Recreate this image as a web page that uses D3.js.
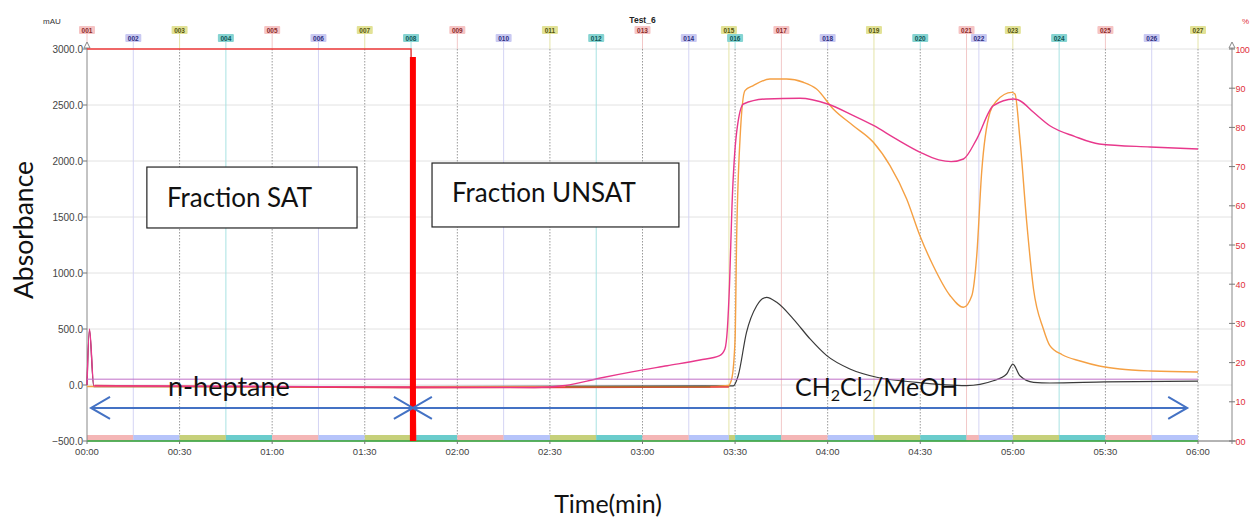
<!DOCTYPE html>
<html><head><meta charset="utf-8">
<script src="https://cdn.jsdelivr.net/npm/d3@7"></script>
<style>body{margin:0;background:#fff}svg{display:block}</style>
</head><body>
<svg id="c" width="1250" height="522"></svg>
<script>
// ---- data ----
const timeTickSeconds = [0,30,60,90,120,150,180,210,240,270,300,330,360];
const timeTickLabels = ["00:00","00:30","01:00","01:30","02:00","02:30","03:00","03:30","04:00","04:30","05:00","05:30","06:00"];
const leftTicks = [-500,0,500,1000,1500,2000,2500,3000];
const rightTicks = [0,10,20,30,40,50,60,70,80,90,100];
const rightTickLabels = ["00","10","20","30","40","50","60","70","80","90","100"];
const fractionLabels = ["001","002","003","004","005","006","007","008","009","010","011","012","013","014","015","016","017","018","019","020","021","022","023","024","025","026","027"];
const fractionTimes = [0,15,30,45,60,75,90,105,120,135,150,165,180,195,208,210,225,240,255,270,285,289,300,315,330,345,360];

// pink trace (mAU)
const pinkT = [0,0.8,2.2,30,60,105,145,155,166,177,188,198.6,205,206.7,207.5,208.2,209,210.5,212.7,220,231,240,248,255,262,270,276,280,284,288.3,293.7,300.2,302.3,306.7,312,320,328,344.5,360];
const pinkV = [0,500,-8,-10,-12,-18,-22,-5,60,119,172,223,262,321,500,900,1600,2256,2509,2554,2560,2509,2410,2315,2200,2078,2010,1994,2018,2196,2494,2554,2538,2435,2315,2220,2152,2125,2107];
// orange trace (mAU)
const orangeT = [0,100,200,207.8,208.9,210,210.5,211.6,213.2,215.9,221.3,226.7,232.1,236.4,241.8,248.3,254.8,260.2,265.6,269.9,274.2,279.7,284,286.7,288.3,289.9,292.6,294.8,299.6,300.7,302.3,304.5,306.7,309.9,312,316,321.8,328,334.7,345,360];
const orangeV = [-14,-16,-16,-5,54,411,1304,2196,2628,2673,2732,2732,2703,2643,2464,2315,2167,1958,1661,1333,1065,797,694,797,1154,1899,2435,2538,2613,2598,2196,1453,857,500,351,270,214,170,143,125,116];
// black trace (mAU)
const blackT = [0,0.8,2.2,100,209.4,211,213.7,217,220.2,223.5,228.9,234.3,239.7,247.2,255.9,268.8,285,293.7,298,300,302.3,306.7,312,330,360];
const blackV = [0,490,-15,-15,-8,83,470,708,783,738,589,411,262,143,69,24,-5,38,98,187,83,24,18,28,35];
// red trace near baseline (mAU)
const redT = [2.5,105,150,208];
const redV = [-5,-25,-22,-18];
// brown trace (mAU)
const brownT = [155,202];
const brownV = [-16,-16];
// purple reference line (mAU)
const purpleT = [0,360];
const purpleV = [52,52];
// red gradient line (%)
const gradT = [0,105,106.5];
const gradV = [100,100,0];

// ---- layout ----
const svg = d3.select("#c");
const x = d3.scaleLinear().domain([0,360]).range([87,1198]);
const y = d3.scaleLinear().domain([-500,3000]).range([441,49]);
const yr = d3.scaleLinear().domain([0,100]).range([441,49]);
const axisRightX = 1232;
const tickFont = "'Liberation Sans', Arial, sans-serif";
const annFont = "Lato, 'Open Sans', sans-serif";

const fracColors = [
  {bg:"#f6c4c4", fg:"#8a2a2a", line:"#f2c8c8", band:"#f4b6b6"},
  {bg:"#c9c9f2", fg:"#2e2e80", line:"#d4d4f4", band:"#b6c4fa"},
  {bg:"#e2e296", fg:"#55550e", line:"#e4e4a8", band:"#c6d07a"},
  {bg:"#86d4d2", fg:"#0e5656", line:"#a8e2e2", band:"#6acccc"}
];

// horizontal grid
svg.append("g").selectAll("line").data(leftTicks).join("line")
  .attr("x1",x(0)).attr("x2",axisRightX).attr("y1",d=>y(d)).attr("y2",d=>y(d))
  .attr("stroke","#e2e2e2").attr("stroke-width",1);

// fraction vertical lines (non 30s)
const fr = fractionTimes.map((t,i)=>({t,i,label:fractionLabels[i],c:fracColors[i%4]}));
svg.append("g").selectAll("line").data(fr.filter(d=>d.t%30!==0)).join("line")
  .attr("x1",d=>x(d.t)).attr("x2",d=>x(d.t)).attr("y1",y(3000)).attr("y2",y(-500))
  .attr("stroke",d=>d.c.line).attr("stroke-width",1);
// 30s dotted grid
svg.append("g").selectAll("line").data(timeTickSeconds.filter(d=>d>0)).join("line")
  .attr("x1",d=>x(d)).attr("x2",d=>x(d)).attr("y1",y(3000)).attr("y2",y(-500))
  .attr("stroke","#9a9a9a").attr("stroke-width",1).attr("stroke-dasharray","1.5,1.5");

// bottom fraction band
const bands = fr.slice(0,-1).map((d,i)=>({t0:d.t,t1:fr[i+1].t,c:d.c}));
svg.append("g").selectAll("rect").data(bands).join("rect")
  .attr("x",d=>x(d.t0)).attr("width",d=>x(d.t1)-x(d.t0))
  .attr("y",y(-500)-6).attr("height",6).attr("fill",d=>d.c.band);

// fraction labels + stems
const fl = svg.append("g");
fl.selectAll("line").data(fr).join("line")
  .attr("x1",d=>x(d.t)).attr("x2",d=>x(d.t))
  .attr("y1",d=>d.i%2===0?34:42).attr("y2",y(3000))
  .attr("stroke",d=>d.c.line).attr("stroke-width",1);
fl.selectAll("rect").data(fr).join("rect")
  .attr("x",d=>x(d.t)-8).attr("y",d=>d.i%2===0?26:34).attr("width",16).attr("height",8)
  .attr("fill",d=>d.c.bg).attr("rx",1);
fl.selectAll("text").data(fr).join("text")
  .attr("x",d=>x(d.t)).attr("y",d=>d.i%2===0?32.5:40.5).attr("text-anchor","middle")
  .attr("font-family",tickFont).attr("font-size",6.5).attr("font-weight","bold")
  .attr("fill",d=>d.c.fg).text(d=>d.label);

// axes lines
svg.append("line").attr("x1",x(0)).attr("x2",axisRightX+4).attr("y1",y(-500)).attr("y2",y(-500)).attr("stroke","#777");
svg.append("line").attr("x1",x(0)).attr("x2",x(360)).attr("y1",y(-500)).attr("y2",y(-500)).attr("stroke","#3cb043").attr("stroke-width",1.5);
svg.append("line").attr("x1",x(0)).attr("x2",x(0)).attr("y1",y(-500)).attr("y2",44).attr("stroke","#888");
svg.append("line").attr("x1",axisRightX).attr("x2",axisRightX).attr("y1",y(-500)+3).attr("y2",44).attr("stroke","#888");
[x(0),axisRightX].forEach(ax=>{
  svg.append("path").attr("d",`M${ax-3},${48} L${ax},${42} L${ax+3},${48} Z`).attr("fill","#fff").attr("stroke","#888");
});

// left ticks
const lt = svg.append("g");
lt.selectAll("line").data(leftTicks).join("line")
  .attr("x1",x(0)-4).attr("x2",x(0)).attr("y1",d=>y(d)).attr("y2",d=>y(d)).attr("stroke","#777");
lt.selectAll("text").data(leftTicks).join("text")
  .attr("x",x(0)-4).attr("y",d=>y(d)+3.5).attr("text-anchor","end")
  .attr("font-family",tickFont).attr("font-size",10).attr("fill","#444")
  .text(d=>d3.format(".1f")(d));
// right ticks
const rt = svg.append("g");
rt.selectAll("line").data(rightTicks).join("line")
  .attr("x1",axisRightX-3).attr("x2",axisRightX+3).attr("y1",d=>yr(d)).attr("y2",d=>yr(d)).attr("stroke","#777");
rt.selectAll("text").data(rightTicks).join("text")
  .attr("x",axisRightX+3.5).attr("y",d=>yr(d)+3.5)
  .attr("font-family",tickFont).attr("font-size",9).attr("fill","#e0303a")
  .attr("letter-spacing",d=>d===100?-0.4:0)
  .text((d,i)=>rightTickLabels[i]);
// x ticks
const xt = svg.append("g");
xt.selectAll("line").data(timeTickSeconds).join("line")
  .attr("x1",d=>x(d)).attr("x2",d=>x(d)).attr("y1",y(-500)).attr("y2",y(-500)+3).attr("stroke","#777");
xt.selectAll("text").data(timeTickSeconds).join("text")
  .attr("x",d=>x(d)).attr("y",y(-500)+14).attr("text-anchor","middle")
  .attr("font-family",tickFont).attr("font-size",9.5).attr("fill","#444")
  .text((d,i)=>timeTickLabels[i]);

// header texts
svg.append("text").attr("x",43).attr("y",24).attr("font-family",tickFont).attr("font-size",8).attr("fill","#333").text("mAU");
svg.append("text").attr("x",x(180)).attr("y",23).attr("text-anchor","middle").attr("font-family",tickFont).attr("font-size",8.5).attr("font-weight","bold").attr("fill","#222").text("Test_6");
svg.append("text").attr("x",1242).attr("y",24).attr("font-family",tickFont).attr("font-size",8).attr("fill","#e0303a").text("%");

// ---- traces ----
const line = d3.line().x(d=>x(d[0])).y(d=>y(d[1])).curve(d3.curveMonotoneX);
const liner = d3.line().x(d=>x(d[0])).y(d=>yr(d[1]));
const zip = (a,b)=>a.map((t,i)=>[t,b[i]]);
const tr = svg.append("g").attr("fill","none");
tr.append("path").attr("d",line(zip(blackT,blackV))).attr("stroke","#3a3a3a").attr("stroke-width",1.2);
tr.append("path").attr("d",line(zip(orangeT,orangeV))).attr("stroke","#f5a043").attr("stroke-width",1.4);
tr.append("path").attr("d",line(zip(redT,redV))).attr("stroke","#e84040").attr("stroke-width",1.4);
tr.append("path").attr("d",line(zip(brownT,brownV))).attr("stroke","#a86a30").attr("stroke-width",1.6);
tr.append("path").attr("d",line(zip(pinkT,pinkV))).attr("stroke","#e8388c").attr("stroke-width",1.4);
tr.append("path").attr("d",line(zip(purpleT,purpleV))).attr("stroke","#c070c8").attr("stroke-width",1);
tr.append("path").attr("d",liner(zip(gradT,gradV))).attr("stroke","#ee3a3a").attr("stroke-width",1.4);

// ---- annotations ----
const cutT = 105.6;
svg.append("rect").attr("x",x(cutT)-3).attr("width",6).attr("y",57).attr("height",y(-500)-57).attr("fill","#ff0000");

const arrowY = y(-205);
const ann = svg.append("g").attr("stroke","#4472c4").attr("stroke-width",2).attr("fill","none");
function dblArrow(t0,t1){
  const a=x(t0), b=x(t1);
  ann.append("line").attr("x1",a).attr("x2",b).attr("y1",arrowY).attr("y2",arrowY);
  ann.append("path").attr("d",`M${a+19},${arrowY-11} L${a},${arrowY} L${a+19},${arrowY+11}`);
  ann.append("path").attr("d",`M${b-19},${arrowY-11} L${b},${arrowY} L${b-19},${arrowY+11}`);
}
dblArrow(1.3,cutT);
dblArrow(cutT,356.5);

function box(t0,t1,v0,v1,label,tx,ty){
  svg.append("rect").attr("x",x(t0)).attr("y",y(v0)).attr("width",x(t1)-x(t0)).attr("height",y(v1)-y(v0))
    .attr("fill","#fff").attr("stroke","#222").attr("stroke-width",1.2);
  svg.append("text").attr("x",tx).attr("y",ty).attr("font-family",annFont).attr("font-size",26).attr("fill","#111").text(label);
}
box(19.4,87.5,1946,1402,"Fraction SAT",167,207);
box(111.8,191.8,1982,1411,"Fraction UNSAT",452,202);

svg.append("text").attr("x",168).attr("y",396).attr("font-family",annFont).attr("font-size",27).attr("fill","#111").text("n-heptane");
const ch = svg.append("text").attr("x",795).attr("y",396).attr("font-family",annFont).attr("font-size",25).attr("fill","#111");
ch.append("tspan").text("CH");
ch.append("tspan").attr("font-size",16).attr("dy",5).text("2");
ch.append("tspan").attr("dy",-5).text("Cl");
ch.append("tspan").attr("font-size",16).attr("dy",5).text("2");
ch.append("tspan").attr("dy",-5).text("/MeOH");

svg.append("text").attr("transform","translate(33,230) rotate(-90)").attr("text-anchor","middle")
  .attr("font-family",annFont).attr("font-size",26.5).attr("fill","#111").text("Absorbance");
svg.append("text").attr("x",608).attr("y",513).attr("text-anchor","middle")
  .attr("font-family",annFont).attr("font-size",25).attr("fill","#111").text("Time(min)");
</script>
</body></html>
